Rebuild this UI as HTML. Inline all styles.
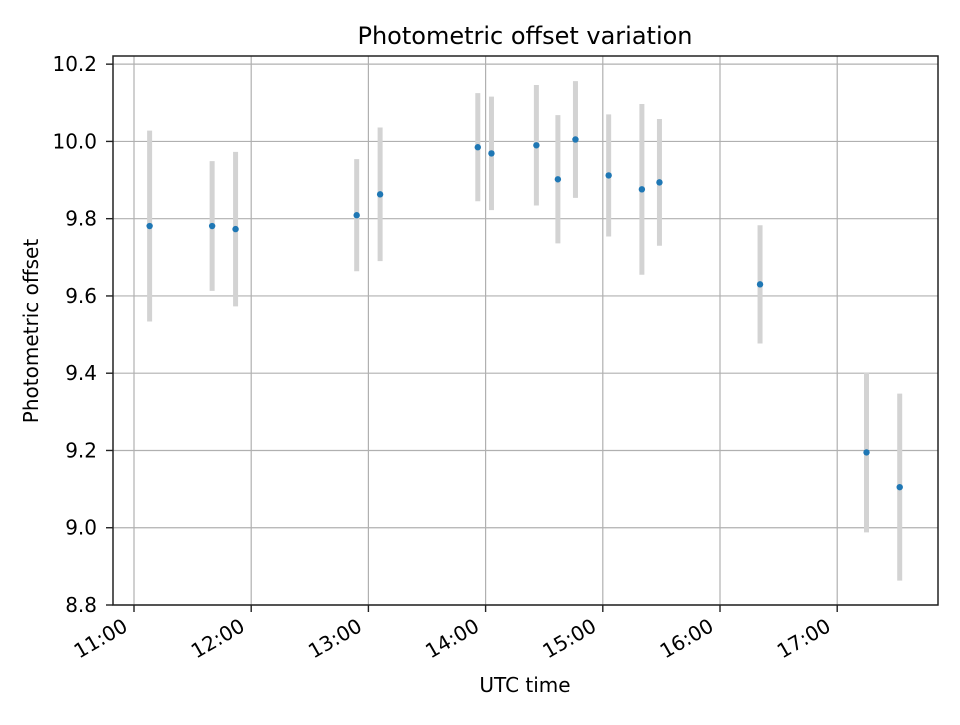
<!DOCTYPE html>
<html><head><meta charset="utf-8"><style>
body{margin:0;background:#fff;}
svg text{font-family:"DejaVu Sans","Liberation Sans",sans-serif;fill:#000;}
</style></head><body>
<svg id="chart" width="960" height="720" xmlns="http://www.w3.org/2000/svg">
<text x="525" y="44" font-size="24" text-anchor="middle">Photometric offset variation</text>
<text x="525" y="692" font-size="20" text-anchor="middle">UTC time</text>
<text transform="translate(38,331) rotate(-90)" font-size="20" text-anchor="middle">Photometric offset</text>
<g id="grid"></g><g id="errs"></g><g id="pts"></g><g id="ticks"></g>
<rect x="113" y="56" width="825" height="549" fill="none" stroke="#222" stroke-width="1.5"/>
</svg>
<script>
// minutes after 11:00 UTC
const times = [8, 40, 52, 114, 126, 176, 183, 206, 217, 226, 243, 260, 269, 320.5, 375, 392];
const values = [9.781, 9.781, 9.773, 9.809, 9.863, 9.985, 9.969, 9.990, 9.902, 10.005, 9.912, 9.876, 9.894, 9.630, 9.195, 9.105];
const errors = [0.247, 0.168, 0.200, 0.145, 0.173, 0.140, 0.147, 0.156, 0.166, 0.151, 0.158, 0.221, 0.164, 0.153, 0.207, 0.242];
const xTickLabels = ["11:00","12:00","13:00","14:00","15:00","16:00","17:00"];
const xTickMinutes = [0,60,120,180,240,300,360];
const yTicks = [8.8,9.0,9.2,9.4,9.6,9.8,10.0,10.2];

const L=113,R=938,T=56,B=605;
const xMin=-10.75,xMax=411.6,yMin=8.8,yMax=10.2211;
const X=m=>L+(m-xMin)/(xMax-xMin)*(R-L);
const Y=v=>B-(v-yMin)/(yMax-yMin)*(B-T);
const NS="http://www.w3.org/2000/svg";
function mk(tag,parent,attrs){const e=document.createElementNS(NS,tag);for(const k in attrs)e.setAttribute(k,attrs[k]);document.getElementById(parent).appendChild(e);return e;}

xTickMinutes.forEach((m,i)=>{
  const x=X(m);
  const g=mk('line','grid',{x1:x,x2:x,y1:T,y2:B,stroke:'#b0b0b0','stroke-width':1.2});
  
  
  const t=mk('line','ticks',{x1:x,x2:x,y1:B,y2:B+7,stroke:'#222','stroke-width':1.4});
  
  
  const lb=mk('text','ticks',{x:x-5,y:B+25,'font-size':20,'text-anchor':'end',transform:`rotate(-30 ${x-5} ${B+25})`});
  lb.textContent=xTickLabels[i];
  
  
});
yTicks.forEach(v=>{
  const y=Y(v);
  const g=mk('line','grid',{x1:L,x2:R,y1:y,y2:y,stroke:'#b0b0b0','stroke-width':1.2});
  
  
  const t=mk('line','ticks',{x1:L-7,x2:L,y1:y,y2:y,stroke:'#222','stroke-width':1.4});
  
  
  const lb=mk('text','ticks',{x:L-16,y:y+7,'font-size':20,'text-anchor':'end'});
  lb.textContent=v.toFixed(1);
  
  
});
times.forEach((m,i)=>{
  const x=X(m);
  const e=mk('line','errs',{x1:x,x2:x,y1:Y(values[i]+errors[i]),y2:Y(values[i]-errors[i]),stroke:'#d3d3d3','stroke-width':5});
  
  
  const p=mk('circle','pts',{cx:x,cy:Y(values[i]),r:3.2,fill:'#1f77b4'});
  
  
});
</script>
</body></html>
